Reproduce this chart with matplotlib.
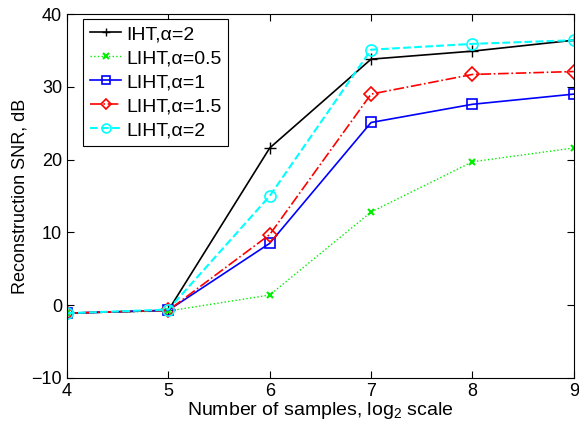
import numpy as np
import matplotlib.pyplot as plt

plt.rcParams['font.family'] = ['Liberation Sans', 'DejaVu Sans']
plt.rcParams['mathtext.fontset'] = 'custom'
plt.rcParams['mathtext.rm'] = 'Liberation Sans'

x = [4, 5, 6, 7, 8, 9]
iht_2 = [-1.1, -0.7, 21.6, 33.8, 34.9, 36.4]
liht_05 = [-1.1, -0.8, 1.4, 12.8, 19.7, 21.6]
liht_1 = [-1.1, -0.7, 8.5, 25.1, 27.6, 29.0]
liht_15 = [-1.1, -0.7, 9.7, 29.0, 31.7, 32.1]
liht_2 = [-1.1, -0.6, 15.0, 35.1, 35.9, 36.4]

fig = plt.figure(figsize=(5.79, 4.25), dpi=100)
ax = fig.add_axes([0.1157, 0.1106, 0.8753, 0.8564])

ax.plot(x, iht_2, color='black', linestyle='-', marker='+', markersize=8, lw=1.2, label='IHT,α=2')
ax.plot(x, liht_05, color='#00ee00', linestyle=':', marker='x', markersize=5, lw=1.0, mew=1.5, label='LIHT,α=0.5')
ax.plot(x, liht_1, color='blue', linestyle='-', marker='s', markersize=7, lw=1.2, mfc='none', mew=1.2, label='LIHT,α=1')
ax.plot(x, liht_15, color='red', linestyle='-.', marker='D', markersize=7, lw=1.2, mfc='none', mew=1.2, label='LIHT,α=1.5')
ax.plot(x, liht_2, color='cyan', linestyle='--', marker='o', markersize=8, lw=1.5, mfc='none', mew=1.2, label='LIHT,α=2')

ax.set_xlim(4, 9)
ax.set_ylim(-10, 40)
ax.set_xticks([4, 5, 6, 7, 8, 9])
ax.set_yticks([-10, 0, 10, 20, 30, 40])
ax.tick_params(direction='in', top=True, right=True, labelsize=13, length=5)
ax.set_xlabel(r'Number of samples, log$_\mathrm{2}$ scale', fontsize=14, labelpad=0)
ax.set_ylabel('Reconstruction SNR, dB', fontsize=13, labelpad=2)

leg = ax.legend(loc='upper left', bbox_to_anchor=(0.032, 0.987), borderaxespad=0,
                fontsize=14, fancybox=False, framealpha=1, edgecolor='black',
                handlelength=1.6, labelspacing=0.33, handletextpad=0.25, borderpad=0.35,
                markerscale=0.8)
leg.get_frame().set_linewidth(0.8)

fig.savefig('out.png', dpi=100)
